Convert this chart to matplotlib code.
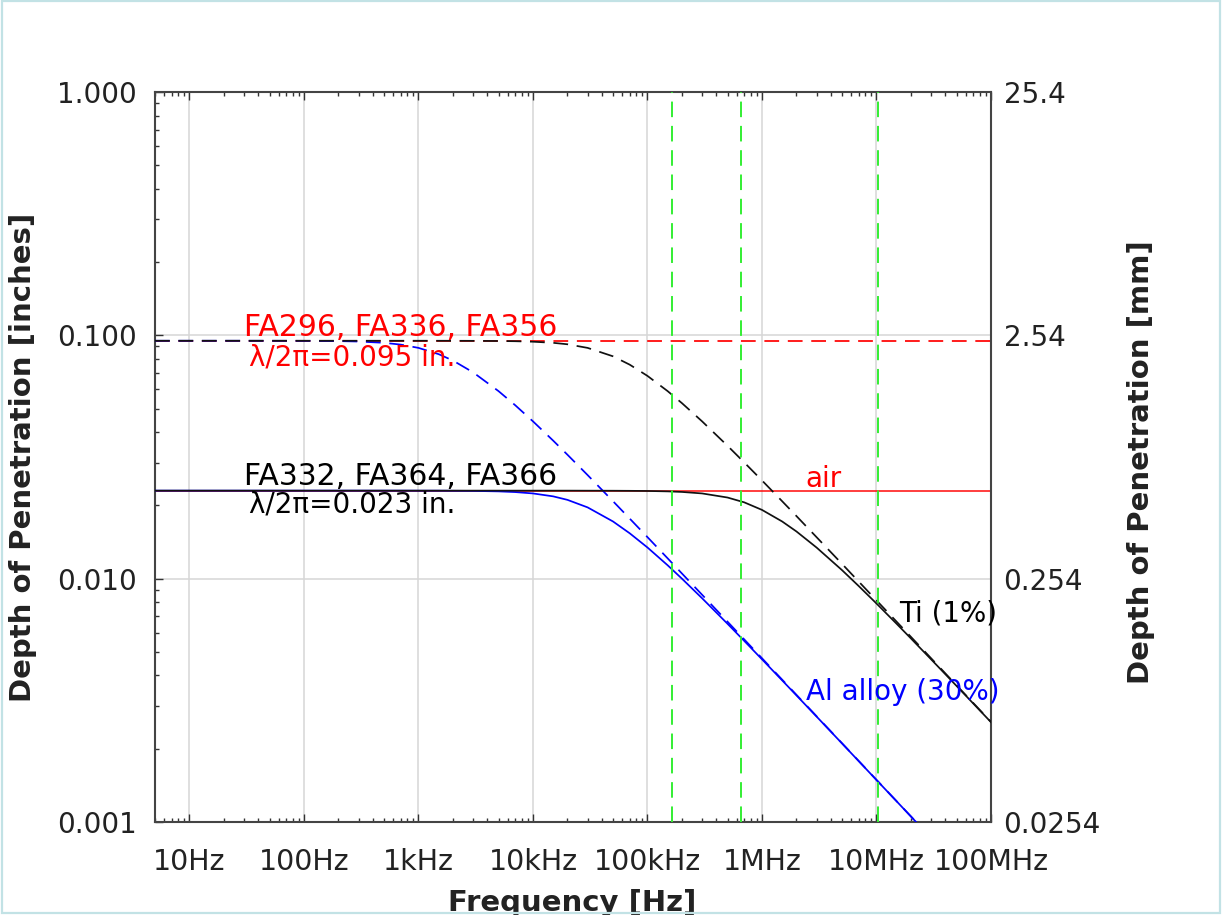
import matplotlib
matplotlib.use("Agg")
import matplotlib.pyplot as plt
from matplotlib.ticker import FixedLocator, FixedFormatter, NullLocator, LogLocator, NullFormatter
from matplotlib.patches import Rectangle

# Frequency grid (Hz)
freq_hz = [5, 7, 10, 15, 20, 30, 50, 70,
           100, 150, 200, 300, 500, 700,
           1e3, 1.5e3, 2e3, 3e3, 5e3, 7e3,
           1e4, 1.5e4, 2e4, 3e4, 5e4, 7e4,
           1e5, 1.5e5, 2e5, 3e5, 5e5, 7e5,
           1e6, 1.5e6, 2e6, 3e6, 5e6, 7e6,
           1e7, 1.5e7, 2e7, 3e7, 5e7, 7e7,
           1e8]

# Depth of penetration (inches), Al alloy (30% IACS), lambda/2pi = 0.095 in.
al_long = [0.095, 0.095, 0.095, 0.095, 0.095, 0.095, 0.09498, 0.09496,
           0.09492, 0.09482, 0.09469, 0.09431, 0.09317, 0.09161,
           0.08880, 0.08369, 0.07877, 0.07045, 0.05899, 0.05160,
           0.04431, 0.03693, 0.03231, 0.02665, 0.02081, 0.01765,
           0.01481, 0.01212, 0.01050, 0.008585, 0.006655, 0.005627,
           0.004709, 0.003846, 0.003331, 0.002719, 0.002107, 0.001781,
           0.001490, 0.001217, 0.001054, 0.000860, 0.000666, 0.000563,
           0.000471]
# Al alloy (30% IACS), lambda/2pi = 0.023 in.
al_short = [0.023, 0.023, 0.023, 0.023, 0.023, 0.023, 0.023, 0.023,
            0.023, 0.023, 0.023, 0.023, 0.023, 0.023,
            0.02299, 0.02299, 0.02297, 0.02294, 0.02284, 0.02269,
            0.02240, 0.02179, 0.02108, 0.01963, 0.01718, 0.01536,
            0.01343, 0.01135, 0.009998, 0.008307, 0.006525, 0.005548,
            0.004662, 0.003820, 0.003314, 0.002711, 0.002103, 0.001778,
            0.001488, 0.001216, 0.001053, 0.000859, 0.000666, 0.000563,
            0.000471]
# Ti (1% IACS), lambda/2pi = 0.095 in.
ti_long = [0.095, 0.095, 0.095, 0.095, 0.095, 0.095, 0.095, 0.095,
           0.095, 0.095, 0.095, 0.095, 0.095, 0.095,
           0.095, 0.09498, 0.09497, 0.09492, 0.09478, 0.09458,
           0.09415, 0.09316, 0.09189, 0.08880, 0.08199, 0.07575,
           0.06811, 0.05898, 0.05263, 0.04430, 0.03516, 0.03003,
           0.02533, 0.02081, 0.01808, 0.01480, 0.01150, 0.009725,
           0.008143, 0.006653, 0.005764, 0.004707, 0.003647, 0.003083,
           0.002579]
# Ti (1% IACS), lambda/2pi = 0.023 in.
ti_short = [0.023, 0.023, 0.023, 0.023, 0.023, 0.023, 0.023, 0.023,
            0.023, 0.023, 0.023, 0.023, 0.023, 0.023,
            0.023, 0.023, 0.023, 0.023, 0.023, 0.023,
            0.023, 0.023, 0.02300, 0.02299, 0.02298, 0.02296,
            0.02293, 0.02284, 0.02272, 0.02240, 0.02155, 0.02059,
            0.01917, 0.01718, 0.01563, 0.01342, 0.01084, 0.009322,
            0.007905, 0.006522, 0.005678, 0.004660, 0.003625, 0.003069,
            0.002571]

# Air: depth equals lambda/2pi at every frequency
air_long = 0.095
air_short = 0.023

# Probe operating frequencies (Hz)
probe_freqs = [1.63e5, 6.5e5, 1.04e7]

x_ticks = [1e1, 1e2, 1e3, 1e4, 1e5, 1e6, 1e7, 1e8]
x_labels = ["10Hz", "100Hz", "1kHz", "10kHz", "100kHz", "1MHz", "10MHz", "100MHz"]
y_ticks = [0.001, 0.01, 0.1, 1.0]
y_labels_in = ["0.001", "0.010", "0.100", "1.000"]
y_labels_mm = ["0.0254", "0.254", "2.54", "25.4"]

plt.rcParams["font.family"] = ["DejaVu Sans"]
TXT = "#222222"
LW = 1.25
DASH = (0, (8.5, 5))

W, H = 1223, 915
fig = plt.figure(figsize=(W / 100, H / 100), dpi=100)
ax = fig.add_axes([155 / W, (H - 822) / H, (991 - 155) / W, (822 - 92) / H])
ax.set_xscale("log")
ax.set_yscale("log")
ax.set_xlim(5, 1e8)
ax.set_ylim(0.001, 1.0)

ax.grid(True, which="major", color="#d6d6d6", lw=1.1, zorder=0)

# air lines
ax.axhline(air_long, color="#ff0000", lw=LW, ls=DASH, zorder=2)
ax.axhline(air_short, color="#ff0000", lw=LW, zorder=2, alpha=0.85)

# Al alloy
ax.plot(freq_hz, al_long, color="#0000ff", lw=LW, ls=DASH, zorder=3)
ax.plot(freq_hz, al_short, color="#0000ff", lw=LW, zorder=3)

# Ti
ax.plot(freq_hz, ti_long, color="#111111", lw=LW, ls=DASH, zorder=4)
ax.plot(freq_hz, ti_short, color="#111111", lw=LW, zorder=4)

# probe frequencies
for f in probe_freqs:
    ax.axvline(f, color="#33ee33", lw=1.4, ls=(0, (8, 4.5)), zorder=5)

ax.xaxis.set_major_locator(FixedLocator(x_ticks))
ax.xaxis.set_major_formatter(FixedFormatter(x_labels))
ax.xaxis.set_minor_locator(LogLocator(base=10, subs=range(2, 10), numticks=50))
ax.xaxis.set_minor_formatter(NullFormatter())
ax.yaxis.set_major_locator(FixedLocator(y_ticks))
ax.yaxis.set_major_formatter(FixedFormatter(y_labels_in))
ax.yaxis.set_minor_locator(LogLocator(base=10, subs=range(2, 10), numticks=50))
ax.yaxis.set_minor_formatter(NullFormatter())

ax.tick_params(which="both", direction="in", top=True, right=True,
               color="#333333", width=1.0)
ax.tick_params(which="major", length=5.5)
ax.tick_params(which="minor", length=2.8)
ax.tick_params(axis="x", which="major", pad=19, labelsize=20.5, labelcolor=TXT)
ax.tick_params(axis="y", which="major", pad=13, labelsize=20, labelcolor=TXT)
for sp in ax.spines.values():
    sp.set_color("#444444")
    sp.set_linewidth(1.5)

ax2 = ax.twinx()
ax2.set_yscale("log")
ax2.set_ylim(ax.get_ylim())
ax2.yaxis.set_major_locator(FixedLocator(y_ticks))
ax2.yaxis.set_major_formatter(FixedFormatter(y_labels_mm))
ax2.yaxis.set_minor_locator(NullLocator())
ax2.tick_params(axis="y", length=0, pad=9, labelsize=20, labelcolor=TXT)
for sp in ax2.spines.values():
    sp.set_visible(False)

# annotations
ax.text(0.2943, 0.6658, "FA296, FA336, FA356", color="#ff0000", fontsize=21.5,
        ha="center", va="baseline", transform=ax.transAxes, zorder=6)
ax.text(0.2356, 0.6260, "λ/2π=0.095 in.", color="#ff0000", fontsize=20,
        ha="center", va="baseline", transform=ax.transAxes, zorder=6)
ax.text(0.2943, 0.4616, "FA332, FA364, FA366", color="#000000", fontsize=21.5,
        ha="center", va="baseline", transform=ax.transAxes, zorder=6)
ax.text(0.2356, 0.4233, "λ/2π=0.023 in.", color="#000000", fontsize=20,
        ha="center", va="baseline", transform=ax.transAxes, zorder=6)
ax.text(0.8002, 0.4589, "air", color="#ff0000", fontsize=20,
        ha="center", va="baseline", transform=ax.transAxes, zorder=6)
ax.text(0.9486, 0.2740, "Ti (1%)", color="#000000", fontsize=20,
        ha="center", va="baseline", transform=ax.transAxes, zorder=6)
ax.text(0.8947, 0.1671, "Al alloy (30%)", color="#0000ff", fontsize=20,
        ha="center", va="baseline", transform=ax.transAxes, zorder=6)

# axis titles
fig.text(23 / W, (H - 457) / H, "Depth of Penetration [inches]", rotation=90,
         ha="center", va="center", fontsize=21, fontweight="bold", color=TXT)
fig.text(1141 / W, (H - 462) / H, "Depth of Penetration [mm]", rotation=90,
         ha="center", va="center", fontsize=21, fontweight="bold", color=TXT)
fig.text(572 / W, (H - 911) / H, "Frequency [Hz]", ha="center", va="baseline",
         fontsize=21, fontweight="bold", color=TXT)

# page frame
fig.add_artist(Rectangle((2 / W, 2 / H), (1220 - 2) / W, (913 - 1) / H,
                         transform=fig.transFigure, fill=False,
                         edgecolor="#c2e2e5", lw=1.6, zorder=10))

fig.savefig("out.png", dpi=100)
